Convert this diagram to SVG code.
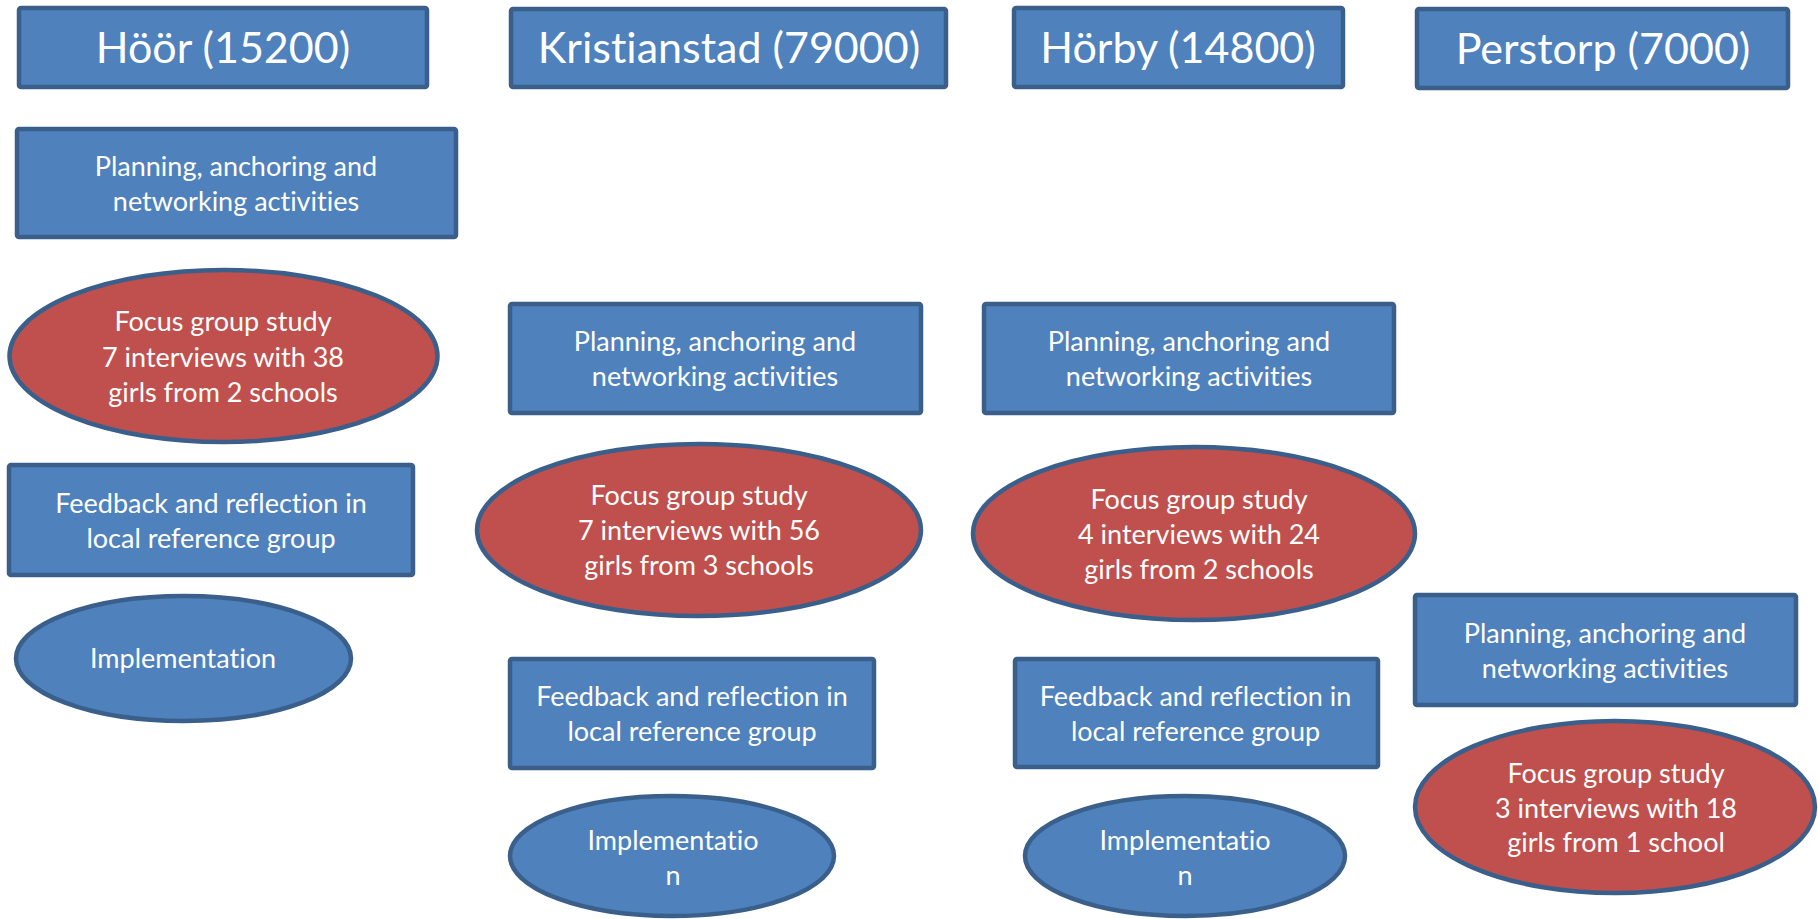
<svg xmlns="http://www.w3.org/2000/svg" width="1818" height="919" viewBox="0 0 1818 919">
<style>
.box{fill:#4F81BD;stroke:#3A5F8B;stroke-width:4.5}
.red{fill:#C0504D;stroke:#3A5F8B;stroke-width:4.5}
.t{font-family:Lato,"Open Sans","Liberation Sans",sans-serif;fill:#FFFFFF;text-anchor:middle;font-size:27px;font-variant-ligatures:none;font-feature-settings:"liga" 0,"clig" 0}
.h{font-family:Lato,"Open Sans","Liberation Sans",sans-serif;fill:#FFFFFF;text-anchor:middle;font-size:43px;font-variant-ligatures:none;font-feature-settings:"liga" 0,"clig" 0}
</style>
<rect width="1818" height="919" fill="#FFFFFF"/>
<g id="connectors"></g>
<g id="hoor-header"><rect class="box" x="19" y="8" width="408" height="79" rx="2"/><text class="h" x="223" y="63">Höör (15200)</text></g>
<g id="kristianstad-header"><rect class="box" x="511" y="9" width="435" height="78" rx="2"/><text class="h" x="729" y="63">Kristianstad (79000)</text></g>
<g id="horby-header"><rect class="box" x="1014" y="8" width="329" height="79" rx="2"/><text class="h" x="1178" y="63">Hörby (14800)</text></g>
<g id="perstorp-header"><rect class="box" x="1417" y="9" width="371" height="79" rx="2"/><text class="h" x="1603" y="64">Perstorp (7000)</text></g>

<g id="hoor-planning"><rect class="box" x="17" y="129" width="439" height="108" rx="2"/><text class="t" x="236" y="176">Planning, anchoring and</text><text class="t" x="236" y="211">networking activities</text></g>
<g id="hoor-focus"><ellipse class="red" cx="223.5" cy="356" rx="214" ry="86"/><text class="t" x="223" y="331">Focus group study</text><text class="t" x="223" y="367">7 interviews with 38</text><text class="t" x="223" y="402">girls from 2 schools</text></g>
<g id="hoor-feedback"><rect class="box" x="9" y="465" width="404" height="110" rx="2"/><text class="t" x="211" y="513">Feedback and reflection in</text><text class="t" x="211" y="548">local reference group</text></g>
<g id="hoor-implementation"><ellipse class="box" cx="183.5" cy="658.5" rx="167.5" ry="62.5"/><text class="t" x="183" y="668">Implementation</text></g>

<g id="kristianstad-planning"><rect class="box" x="510" y="304" width="411" height="109" rx="2"/><text class="t" x="715" y="351">Planning, anchoring and</text><text class="t" x="715" y="386">networking activities</text></g>
<g id="kristianstad-focus"><ellipse class="red" cx="699" cy="530" rx="222" ry="86"/><text class="t" x="699" y="505">Focus group study</text><text class="t" x="699" y="540">7 interviews with 56</text><text class="t" x="699" y="575">girls from 3 schools</text></g>
<g id="kristianstad-feedback"><rect class="box" x="510" y="659" width="364" height="109" rx="2"/><text class="t" x="692" y="706">Feedback and reflection in</text><text class="t" x="692" y="741">local reference group</text></g>
<g id="kristianstad-implementation"><ellipse class="box" cx="672" cy="856" rx="162" ry="60"/><text class="t" x="673" y="850">Implementatio</text><text class="t" x="673" y="885">n</text></g>

<g id="horby-planning"><rect class="box" x="984" y="304" width="410" height="109" rx="2"/><text class="t" x="1189" y="351">Planning, anchoring and</text><text class="t" x="1189" y="386">networking activities</text></g>
<g id="horby-focus"><ellipse class="red" cx="1194" cy="533.5" rx="221" ry="86.5"/><text class="t" x="1199" y="509">Focus group study</text><text class="t" x="1199" y="544">4 interviews with 24</text><text class="t" x="1199" y="579">girls from 2 schools</text></g>
<g id="horby-feedback"><rect class="box" x="1015" y="659" width="363" height="108" rx="2"/><text class="t" x="1195.5" y="706">Feedback and reflection in</text><text class="t" x="1195.5" y="741">local reference group</text></g>
<g id="horby-implementation"><ellipse class="box" cx="1185" cy="856" rx="160" ry="60"/><text class="t" x="1185" y="850">Implementatio</text><text class="t" x="1185" y="885">n</text></g>

<g id="perstorp-planning"><rect class="box" x="1415" y="595" width="381" height="110" rx="2"/><text class="t" x="1605" y="643">Planning, anchoring and</text><text class="t" x="1605" y="678">networking activities</text></g>
<g id="perstorp-focus"><ellipse class="red" cx="1615" cy="807" rx="200" ry="86"/><text class="t" x="1616" y="783">Focus group study</text><text class="t" x="1616" y="818">3 interviews with 18</text><text class="t" x="1616" y="852">girls from 1 school</text></g>
</svg>
